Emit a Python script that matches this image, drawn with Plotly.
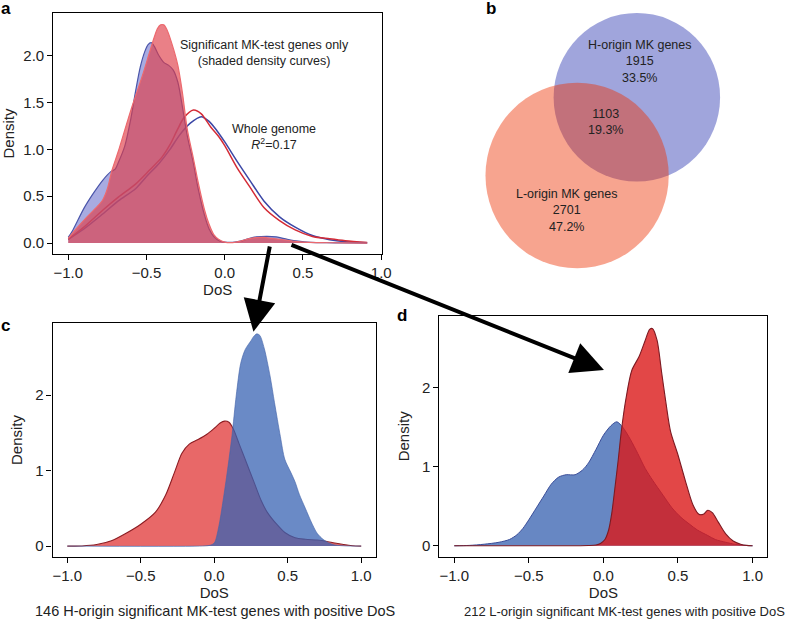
import plotly.graph_objects as go

W, H = 791, 621
FONT = "Liberation Sans, Arial, Helvetica, sans-serif"

# ---------------- Panel a data ----------------
a_sig_h_x = [-1.0, -0.97, -0.9, -0.84, -0.78, -0.73, -0.7, -0.68, -0.64, -0.6, -0.57, -0.54, -0.51, -0.49, -0.47,
             -0.45, -0.42, -0.39, -0.36, -0.33, -0.3, -0.27, -0.24, -0.2, -0.17, -0.13, -0.1, -0.07, -0.03, 0.0,
             0.05, 0.1, 0.15, 0.2, 0.27, 0.33, 0.4, 0.47, 0.55, 0.65, 0.75, 0.91]
a_sig_h_y = [0.06, 0.14, 0.37, 0.53, 0.67, 0.76, 0.79, 0.86, 1.03, 1.33, 1.62, 1.88, 2.05, 2.12, 2.14,
             2.1, 2.0, 1.93, 1.9, 1.85, 1.72, 1.45, 1.15, 0.85, 0.58, 0.3, 0.15, 0.07, 0.02, 0.01,
             0.008, 0.02, 0.045, 0.065, 0.072, 0.065, 0.04, 0.02, 0.008, 0.003, 0.001, 0.0]

a_sig_l_x = [-1.0, -0.95, -0.88, -0.82, -0.78, -0.75, -0.72, -0.68, -0.64, -0.6, -0.56, -0.52, -0.48,
             -0.45, -0.43, -0.41, -0.39, -0.37, -0.34, -0.3, -0.27, -0.24, -0.2, -0.17, -0.13, -0.1, -0.07,
             -0.04, 0.0, 0.05, 0.1, 0.15, 0.2, 0.25, 0.3, 0.35, 0.4, 0.45, 0.5, 0.6, 0.75, 0.91]
a_sig_l_y = [0.05, 0.15, 0.28, 0.38, 0.46, 0.58, 0.78, 0.98, 1.2, 1.42, 1.62, 1.82, 2.04,
             2.2, 2.29, 2.33, 2.33, 2.28, 2.14, 1.9, 1.6, 1.22, 0.9, 0.65, 0.36, 0.2, 0.09,
             0.04, 0.01, 0.005, 0.02, 0.045, 0.058, 0.06, 0.05, 0.04, 0.03, 0.018, 0.01, 0.005, 0.002, 0.0]

a_wg_h_x = [-1.0, -0.9, -0.78, -0.68, -0.57, -0.5, -0.42, -0.35, -0.29, -0.22, -0.15, -0.1, -0.05, 0.0,
            0.08, 0.16, 0.25, 0.35, 0.45, 0.56, 0.67, 0.77, 0.91]
a_wg_h_y = [0.04, 0.15, 0.31, 0.45, 0.58, 0.71, 0.85, 1.0, 1.15, 1.28, 1.35, 1.3, 1.2, 1.08,
            0.87, 0.67, 0.45, 0.28, 0.17, 0.08, 0.036, 0.015, 0.002]

a_wg_l_x = [-1.0, -0.9, -0.78, -0.68, -0.57, -0.48, -0.4, -0.35, -0.3, -0.26, -0.2, -0.15, -0.09, -0.04,
            0.0, 0.08, 0.16, 0.25, 0.35, 0.45, 0.56, 0.67, 0.77, 0.91]
a_wg_l_y = [0.04, 0.17, 0.35, 0.49, 0.63, 0.78, 0.92, 1.05, 1.22, 1.34, 1.42, 1.38, 1.24, 1.14,
            1.04, 0.8, 0.6, 0.38, 0.24, 0.14, 0.07, 0.045, 0.025, 0.005]

# ---------------- Panel c data ----------------
c_l_x = [-1.0, -0.9, -0.8, -0.7, -0.6, -0.5, -0.4, -0.33, -0.27, -0.22, -0.17, -0.11, -0.05, 0.0, 0.04,
         0.07, 0.1, 0.13, 0.17, 0.22, 0.27, 0.32, 0.36, 0.42, 0.48, 0.55, 0.62, 0.7, 0.76, 0.82, 0.88,
         0.94, 1.0]
c_l_y = [0.0, 0.002, 0.02, 0.07, 0.17, 0.29, 0.45, 0.68, 0.98, 1.23, 1.35, 1.41, 1.48, 1.56, 1.63,
         1.655, 1.64, 1.55, 1.35, 1.1, 0.85, 0.6, 0.45, 0.3, 0.18, 0.11, 0.09, 0.08, 0.065, 0.04, 0.02,
         0.005, 0.0]

c_h_x = [-1.0, -0.1, -0.03, 0.0, 0.03, 0.06, 0.09, 0.12, 0.15, 0.18, 0.21, 0.25, 0.27, 0.29, 0.31, 0.34,
         0.38, 0.41, 0.45, 0.48, 0.52, 0.55, 0.58, 0.62, 0.66, 0.7, 0.74, 0.78, 0.82, 0.9, 1.0]
c_h_y = [0.0, 0.0, 0.01, 0.04, 0.25, 0.6, 1.0, 1.45, 2.0, 2.42, 2.6, 2.72, 2.78, 2.81, 2.79, 2.62,
         2.25, 1.9, 1.45, 1.15, 0.98, 0.85, 0.68, 0.5, 0.32, 0.17, 0.09, 0.04, 0.015, 0.002, 0.0]

# ---------------- Panel d data ----------------
d_h_x = [-1.0, -0.9, -0.8, -0.7, -0.63, -0.58, -0.54, -0.5, -0.45, -0.4, -0.35, -0.3, -0.25, -0.19,
         -0.14, -0.1, -0.05, 0.0, 0.05, 0.09, 0.13, 0.18, 0.23, 0.28, 0.33, 0.4, 0.46, 0.52, 0.58, 0.63,
         0.7, 0.75, 0.82, 0.88, 0.95, 1.0]
d_h_y = [0.0, 0.005, 0.02, 0.045, 0.08, 0.14, 0.22, 0.33, 0.48, 0.63, 0.78, 0.87, 0.9, 0.9,
         0.96, 1.05, 1.22, 1.4, 1.52, 1.57, 1.5, 1.35, 1.17, 0.98, 0.83, 0.64, 0.48, 0.36, 0.27, 0.2,
         0.13, 0.08, 0.045, 0.02, 0.005, 0.0]

d_l_x = [-1.0, -0.2, -0.1, -0.05, -0.02, 0.01, 0.035, 0.055, 0.08, 0.1, 0.12, 0.15, 0.19, 0.24, 0.28,
         0.31, 0.33, 0.36, 0.39, 0.42, 0.45, 0.5, 0.55, 0.6, 0.64, 0.67, 0.7, 0.73, 0.77, 0.82, 0.87,
         0.92, 0.96, 1.0]
d_l_y = [0.0, 0.0, 0.003, 0.01, 0.03, 0.08, 0.2, 0.4, 0.78, 1.1, 1.45, 1.85, 2.22, 2.4, 2.6,
         2.74, 2.75, 2.6, 2.2, 1.8, 1.45, 1.15, 0.82, 0.52, 0.4, 0.4, 0.45, 0.42, 0.3, 0.15, 0.06,
         0.02, 0.005, 0.0]

# ---------------- Panel b (Venn) data ----------------
venn_labels = ["H-origin MK genes", "", "L-origin MK genes"]
venn_counts = [1915, 1103, 2701]
venn_pcts = ["33.5%", "19.3%", "47.2%"]

# axis tick definitions
a_xticks = [-1.0, -0.5, 0.0, 0.5, 1.0]
a_yticks = [0.0, 0.5, 1.0, 1.5, 2.0]
cd_yticks = [0, 1, 2]

captions = ["146 H-origin significant MK-test genes with positive DoS",
            "212 L-origin significant MK-test genes with positive DoS"]

fig = go.Figure()

def px_x(p):
    return p / W

def px_y(p):
    return 1 - p / H

SM = 0.8
# Panel a: whole genome lines (under fills)
fig.add_trace(go.Scatter(x=a_wg_h_x, y=a_wg_h_y, mode="lines", line=dict(color="#3b47a6", width=1.5, shape="spline", smoothing=SM),
                         xaxis="x", yaxis="y", showlegend=False, hoverinfo="skip"))
fig.add_trace(go.Scatter(x=a_wg_l_x, y=a_wg_l_y, mode="lines", line=dict(color="#d42b36", width=1.5, shape="spline", smoothing=SM),
                         xaxis="x", yaxis="y", showlegend=False, hoverinfo="skip"))
# significant shaded
fig.add_trace(go.Scatter(x=a_sig_h_x, y=a_sig_h_y, mode="lines", fill="tozeroy", fillcolor="rgba(110,115,205,0.6)",
                         line=dict(color="#4a55aa", width=1.2, shape="spline", smoothing=SM),
                         xaxis="x", yaxis="y", showlegend=False, hoverinfo="skip"))
fig.add_trace(go.Scatter(x=a_sig_l_x, y=a_sig_l_y, mode="lines", fill="tozeroy", fillcolor="rgba(222,60,70,0.65)",
                         line=dict(color="rgba(236,105,110,1)", width=1.2, shape="spline", smoothing=SM),
                         xaxis="x", yaxis="y", showlegend=False, hoverinfo="skip"))

# Panel c
fig.add_trace(go.Scatter(x=c_l_x, y=c_l_y, mode="lines", fill="tozeroy", fillcolor="#e86868",
                         line=dict(color="#8c1c22", width=1.1, shape="spline", smoothing=SM),
                         xaxis="x2", yaxis="y2", showlegend=False, hoverinfo="skip"))
fig.add_trace(go.Scatter(x=c_h_x, y=c_h_y, mode="lines", fill="tozeroy", fillcolor="rgba(56,99,179,0.75)",
                         line=dict(color="rgba(70,100,170,0.8)", width=0.8, shape="spline", smoothing=SM),
                         xaxis="x2", yaxis="y2", showlegend=False, hoverinfo="skip"))

# Panel d
fig.add_trace(go.Scatter(x=d_h_x, y=d_h_y, mode="lines", fill="tozeroy", fillcolor="#6787c3",
                         line=dict(color="#3a4d98", width=1.0, shape="spline", smoothing=SM),
                         xaxis="x3", yaxis="y3", showlegend=False, hoverinfo="skip"))
fig.add_trace(go.Scatter(x=d_l_x, y=d_l_y, mode="lines", fill="tozeroy", fillcolor="rgba(219,25,25,0.8)",
                         line=dict(color="#7d1a22", width=1.1, shape="spline", smoothing=SM),
                         xaxis="x3", yaxis="y3", showlegend=False, hoverinfo="skip"))

axis_common = dict(showline=True, linecolor="black", linewidth=1.3, mirror=True, ticks="outside",
                   ticklen=5, tickwidth=1.3, tickcolor="black", showgrid=False, zeroline=False,
                   tickfont=dict(family=FONT, size=15, color="#222"), title_font=dict(family=FONT, size=15, color="#222"))

fig.update_layout(
    width=W, height=H, margin=dict(l=0, r=0, t=0, b=0),
    paper_bgcolor="white", plot_bgcolor="white",
    font=dict(family=FONT, color="#222"),
    xaxis=dict(domain=[px_x(54), px_x(387)], range=[-1.0955, 1.0055], tickvals=a_xticks, tickformat=".1f",
               title=dict(text="DoS", standoff=4), anchor="y", **axis_common),
    yaxis=dict(domain=[px_y(254), px_y(13)], range=[-0.117, 2.457], tickvals=a_yticks, tickformat=".1f",
               title=dict(text="Density", standoff=6), anchor="x", **axis_common),
    xaxis2=dict(domain=[px_x(53.3), px_x(380.7)], range=[-1.1, 1.1], tickvals=a_xticks, tickformat=".1f",
                title=dict(text="DoS", standoff=4), anchor="y2", **axis_common),
    yaxis2=dict(domain=[px_y(556.7), px_y(323.3)], range=[-0.1405, 2.95], tickvals=cd_yticks,
                title=dict(text="Density", standoff=8), anchor="x2", **axis_common),
    xaxis3=dict(domain=[px_x(445), px_x(777.3)], range=[-1.1, 1.1], tickvals=a_xticks, tickformat=".1f",
                title=dict(text="DoS", standoff=4), anchor="y3", **axis_common),
    yaxis3=dict(domain=[px_y(556.7), px_y(316)], range=[-0.138, 2.91], tickvals=cd_yticks,
                title=dict(text="Density", standoff=8), anchor="x3", **axis_common),
    xaxis4=dict(domain=[px_x(460), 1.0], range=[0, 331], visible=False, anchor="y4"),
    yaxis4=dict(domain=[px_y(300), 1.0], range=[300, 0], visible=False, anchor="x4"),
)

# Venn circles (blue opaque, orange translucent on top)
venn_circles = [
    dict(cx=185, cy=97.3, r=84.3, color="#a0a5dc"),
    dict(cx=124.5, cy=175.5, r=92.8, color="rgba(237,48,0,0.44)"),
]
shapes = []
for c in venn_circles:
    shapes.append(dict(type="circle", xref="x4", yref="y4", x0=c["cx"] - c["r"], x1=c["cx"] + c["r"],
                       y0=c["cy"] - c["r"], y1=c["cy"] + c["r"], fillcolor=c["color"], line=dict(width=0),
                       layer="above"))
fig.update_layout(shapes=shapes)

annotations = []
venn_text_pos = [(188.3, 61), (153, 122), (113.3, 210.7)]
for lab, cnt, pct, (tx, ty) in zip(venn_labels, venn_counts, venn_pcts, venn_text_pos):
    lines = ([lab] if lab else []) + [str(cnt), pct]
    annotations.append(dict(x=tx, y=ty, xref="x4", yref="y4", text="<br>".join(lines), showarrow=False,
                            font=dict(family=FONT, size=12.5, color="#222"), xanchor="center", yanchor="middle"))

# panel a texts
annotations.append(dict(x=px_x(268), y=px_y(53), xref="paper", yref="paper",
                        text="Significant MK-test genes only<br>(shaded density curves)", showarrow=False,
                        font=dict(family=FONT, size=12.5, color="#222"), xanchor="center", yanchor="middle"))
annotations.append(dict(x=px_x(278), y=px_y(137), xref="paper", yref="paper",
                        text="Whole genome<br><i>R</i><sup>2</sup>=0.17", showarrow=False,
                        font=dict(family=FONT, size=12.5, color="#222"), xanchor="center", yanchor="middle"))

# panel letters
for letter, (lx, ly) in zip(["a", "b", "c", "d"], [(6, 9), (497, 9), (6, 325), (407, 315)]):
    annotations.append(dict(x=px_x(lx), y=px_y(ly), xref="paper", yref="paper", text="<b>%s</b>" % letter,
                            showarrow=False, font=dict(family=FONT, size=17, color="black"),
                            xanchor="center", yanchor="middle"))

# captions
for cap, cx, fs in zip(captions, [218, 633], [14.5, 13]):
    annotations.append(dict(x=px_x(cx), y=px_y(611), xref="paper", yref="paper", text=cap, showarrow=False,
                            font=dict(family=FONT, size=fs, color="#222"), xanchor="center", yanchor="middle"))

# arrows
arrows = [((256.7, 331.7), (273.3, 245)), ((611.7, 370), (297.7, 244.3))]
for (tx, ty), (sx, sy) in arrows:
    annotations.append(dict(x=px_x(tx), y=px_y(ty), xref="paper", yref="paper", ax=sx - tx, ay=sy - ty,
                            axref="pixel", ayref="pixel", showarrow=True, arrowhead=2, arrowsize=1.6,
                            arrowwidth=4, arrowcolor="black", text="", standoff=0))

fig.update_layout(annotations=annotations)

fig.write_html("out.html", post_script="document.body.style.margin='0';",
               config={"displayModeBar": False})
